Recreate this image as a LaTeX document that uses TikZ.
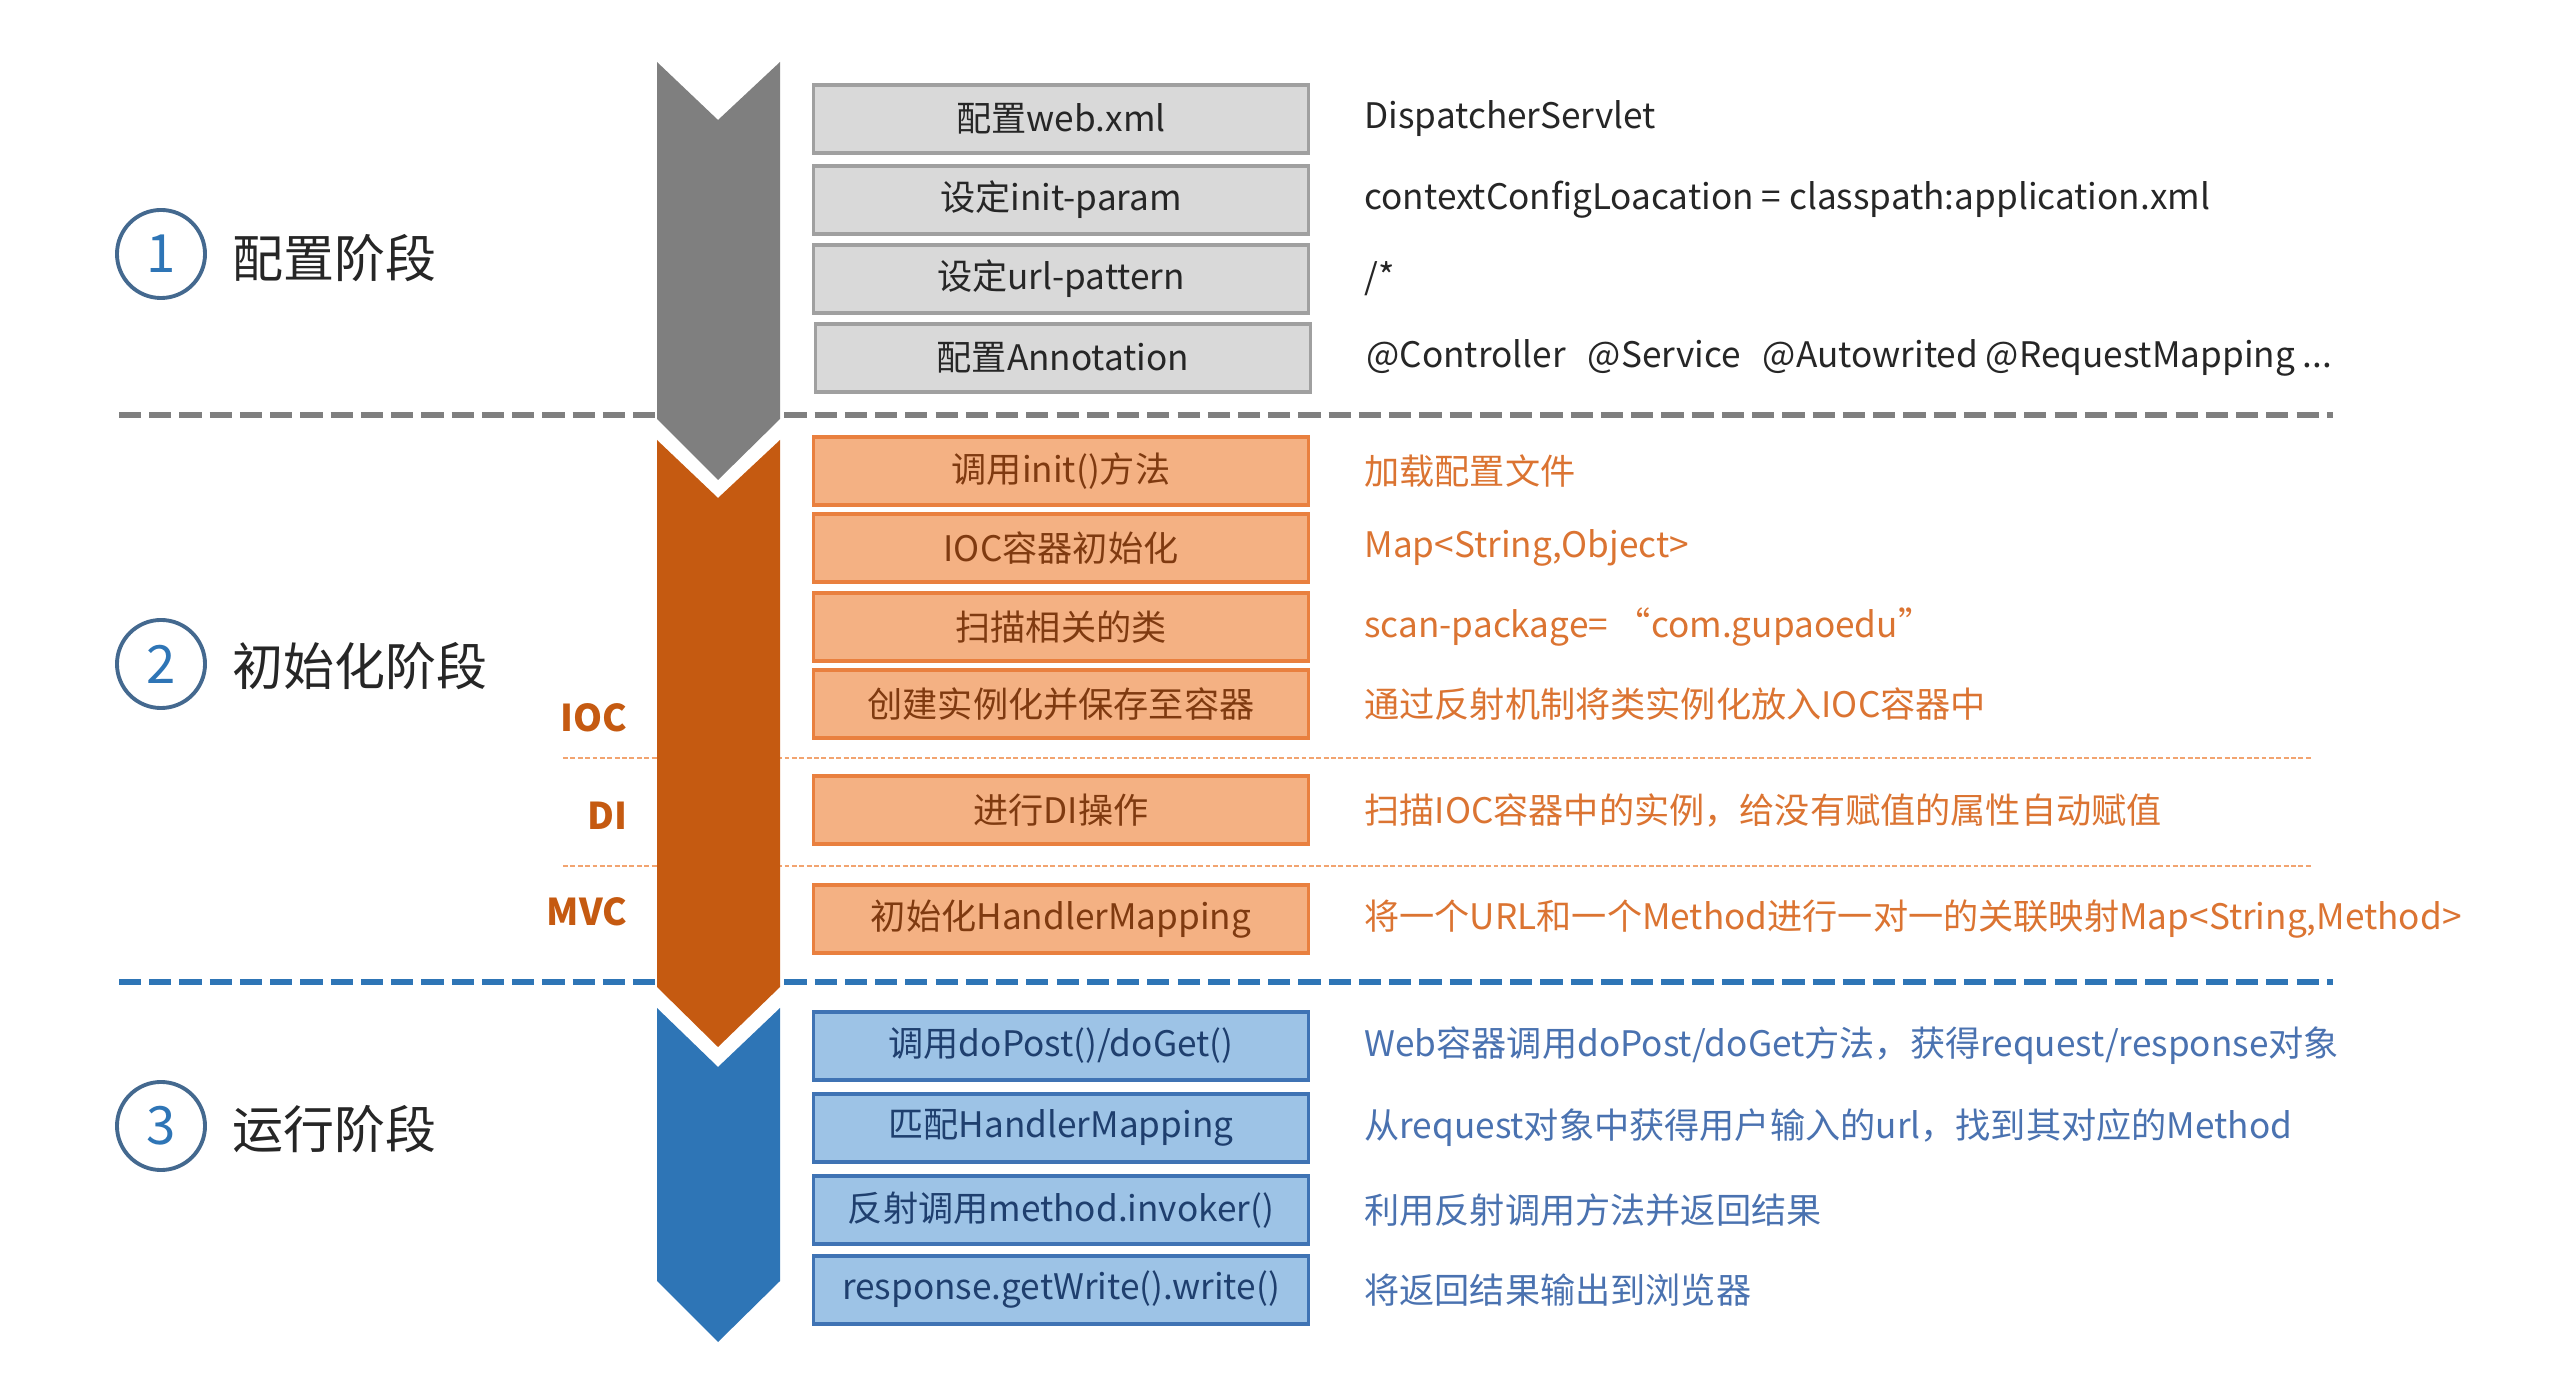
\documentclass[tikz,border=0pt]{standalone}
\usepackage{fontspec}
\setmainfont{Noto Sans CJK SC}
\usetikzlibrary{positioning}

\definecolor{arrgray}{HTML}{7F7F7F}
\definecolor{arrorange}{HTML}{C55A11}
\definecolor{arrblue}{HTML}{2E75B6}
\definecolor{boxgray}{HTML}{D9D9D9}
\definecolor{boxgrayline}{HTML}{A0A0A0}
\definecolor{boxorange}{HTML}{F4B183}
\definecolor{boxorangeline}{HTML}{E9803F}
\definecolor{boxblue}{HTML}{9DC3E6}
\definecolor{boxblueline}{HTML}{3F73B4}
\definecolor{txtdark}{HTML}{262626}
\definecolor{txtbrown}{HTML}{7F3A10}
\definecolor{txtnavy}{HTML}{1F3F6E}
\definecolor{descorange}{HTML}{DB7432}
\definecolor{descblue}{HTML}{4A72B0}
\definecolor{dotorange}{HTML}{F2A470}
\definecolor{circline}{HTML}{44698F}

\begin{document}
\begin{tikzpicture}[x=0.01cm, y=-0.01cm,
    stepbox/.style={draw, line width=0.9pt, minimum width=4.94cm, minimum height=0.68cm,
        inner sep=0pt, font=\fontsize{10}{12}\selectfont},
    graybox/.style={stepbox, draw=boxgrayline, fill=boxgray, text=txtdark},
    orangebox/.style={stepbox, draw=boxorangeline, fill=boxorange, text=txtbrown},
    bluebox/.style={stepbox, draw=boxblueline, fill=boxblue, text=txtnavy},
    desc/.style={right=0.54cm of #1, inner sep=0pt, font=\fontsize{10}{12}\selectfont},
    phasenum/.style={circle, draw=circline, line width=1.1pt, fill=white, minimum size=0.88cm,
        inner sep=0pt, text=arrblue, font=\fontsize{15}{18}\selectfont},
    phase/.style={anchor=west, inner sep=0pt, text=txtdark, font=\fontsize{14.5}{17}\selectfont},
    part/.style={anchor=east, inner sep=0pt, text=arrorange, font=\bfseries\fontsize{10.5}{12}\selectfont},
    sepline/.style={line width=1.7pt, dash pattern=on 6.3pt off 2.3pt},
    dotline/.style={dotorange, line width=0.7pt, dash pattern=on 1.4pt off 0.7pt}
]
    \useasboundingbox (0,0) rectangle (2558,1374);

    % Separators
    \draw[sepline, arrgray] (119,415) -- (2333,415);
    \draw[sepline, arrblue] (119,982) -- (2333,982);
    \draw[dotline] (563,758) -- (2313,758);
    \draw[dotline] (563,866) -- (2313,866);

    % Arrows
    \fill[arrgray] (657,62) -- (718,120) -- (780,62) -- (780,419) -- (718,480) -- (657,419) -- cycle;
    \fill[arrorange] (657,440) -- (718,498) -- (780,440) -- (780,987) -- (718,1047) -- (657,987) -- cycle;
    \fill[arrblue] (657,1008) -- (718,1067) -- (780,1008) -- (780,1281) -- (718,1342) -- (657,1281) -- cycle;

    % Phases
    \node[phasenum] (n1) at (161,254) {1};
    \node[phasenum] (n2) at (161,664) {2};
    \node[phasenum] (n3) at (161,1126) {3};
    \node[phase] (p1) at (232,258) {配置阶段};
    \node[phase] (p2) at (232,666) {初始化阶段};
    \node[phase] (p3) at (232,1129) {运行阶段};

    \node[part] (ioc) at (628,718) {IOC};
    \node[part] (di) at (628,816) {DI};
    \node[part] (mvc) at (628,912) {MVC};

    % Config
    \node[graybox] (g1) at (1061,119) {配置web.xml};
    \node[graybox] (g2) at (1061,200) {设定init-param};
    \node[graybox] (g3) at (1061,279) {设定url-pattern};
    \node[graybox] (g4) at (1063,358) {配置Annotation};

    \node[desc=g1, text=txtdark] (d1) {DispatcherServlet};
    \node[desc=g2, text=txtdark] (d2) {contextConfigLoacation = classpath:application.xml};
    \node[desc=g3, text=txtdark] (d3) {/*};
    \node[desc=g4, text=txtdark] (d4) {@Controller\hspace{0.22cm}@Service\hspace{0.22cm}@Autowrited @RequestMapping ...};

    % Init
    \node[orangebox] (o1) at (1061,471) {调用init()方法};
    \node[orangebox] (o2) at (1061,548) {IOC容器初始化};
    \node[orangebox] (o3) at (1061,627) {扫描相关的类};
    \node[orangebox] (o4) at (1061,704) {创建实例化并保存至容器};
    \node[orangebox] (o5) at (1061,810) {进行DI操作};
    \node[orangebox] (o6) at (1061,919) {初始化HandlerMapping};

    \node[desc=o1, text=descorange] (e1) {加载配置文件};
    \node[desc=o2, text=descorange] (e2) {Map<String,Object>};
    \node[desc=o3, text=descorange] (e3) {scan-package=~“com.gupaoedu”};
    \node[desc=o4, text=descorange] (e4) {通过反射机制将类实例化放入IOC容器中};
    \node[desc=o5, text=descorange] (e5) {扫描IOC容器中的实例，给没有赋值的属性自动赋值};
    \node[desc=o6, text=descorange] (e6) {将一个URL和一个Method进行一对一的关联映射Map<String,Method>};

    % Run
    \node[bluebox] (b1) at (1061,1046) {调用doPost()/doGet()};
    \node[bluebox] (b2) at (1061,1128) {匹配HandlerMapping};
    \node[bluebox] (b3) at (1061,1210) {反射调用method.invoker()};
    \node[bluebox] (b4) at (1061,1290) {response.getWrite().write()};

    \node[desc=b1, text=descblue] (f1) {Web容器调用doPost/doGet方法，获得request/response对象};
    \node[desc=b2, text=descblue] (f2) {从request对象中获得用户输入的url，找到其对应的Method};
    \node[desc=b3, text=descblue] (f3) {利用反射调用方法并返回结果};
    \node[desc=b4, text=descblue] (f4) {将返回结果输出到浏览器};
\end{tikzpicture}
\end{document}
